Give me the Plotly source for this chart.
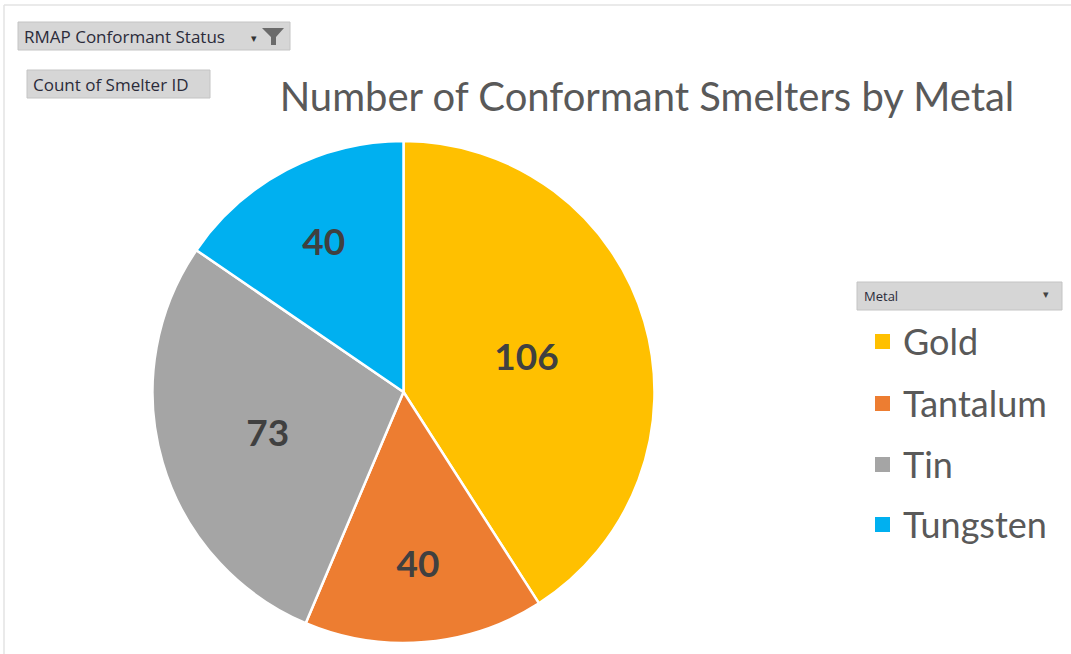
import plotly.graph_objects as go

metals = ["Gold", "Tantalum", "Tin", "Tungsten"]
counts = [106, 40, 73, 40]
colors = ["#FFC000", "#ED7D31", "#A5A5A5", "#00B0F0"]
title_text = "Number of Conformant Smelters by Metal"
filter_label = "RMAP Conformant Status"
value_label = "Count of Smelter ID"
legend_label = "Metal"

W, H = 1071, 654
FONT = "Lato"

def px(x):
    return x / W

def py(y):
    return 1 - y / H

fig = go.Figure()
fig.add_trace(go.Pie(
    labels=metals,
    values=counts,
    marker=dict(colors=colors, line=dict(color="white", width=2.5)),
    sort=False,
    direction="clockwise",
    rotation=0,
    textinfo="value",
    textposition="inside",
    insidetextorientation="horizontal",
    textfont=dict(family=FONT, size=37, color="#404040", weight="bold"),
    domain=dict(x=[px(152), px(655)], y=[py(643), py(141)]),
    showlegend=False,
    hoverinfo="label+value",
))

shapes = []
annotations = []

# outer frame (top and left edges visible)
shapes.append(dict(type="line", xref="paper", yref="paper",
                   x0=px(4), x1=px(1071), y0=py(5), y1=py(5),
                   line=dict(color="#e3e3e3", width=1.5)))
shapes.append(dict(type="line", xref="paper", yref="paper",
                   x0=px(4), x1=px(4), y0=py(5), y1=py(654),
                   line=dict(color="#e3e3e3", width=1.5)))

# pivot field buttons
def button(x0, y0, x1, y1):
    shapes.append(dict(type="rect", xref="paper", yref="paper",
                       x0=px(x0), x1=px(x1), y0=py(y1), y1=py(y0),
                       line=dict(color="#c4c4c4", width=1), fillcolor="#d6d6d6", layer="below"))

button(18, 22, 290, 50)
annotations.append(dict(xref="paper", yref="paper", x=px(22), y=py(36), xanchor="left", yanchor="middle",
                        text=filter_label, showarrow=False,
                        font=dict(family="Open Sans", size=17, color="#2b2b3a")))
annotations.append(dict(xref="paper", yref="paper", x=px(254), y=py(38), xanchor="center", yanchor="middle",
                        text="\u25be", showarrow=False,
                        font=dict(family="DejaVu Sans", size=11, color="#333333")))
# funnel icon
shapes.append(dict(type="path", xref="paper", yref="paper",
                   path=f"M {px(262)},{py(28)} L {px(284)},{py(28)} L {px(276)},{py(37)} L {px(276)},{py(45)} L {px(271)},{py(45)} L {px(271)},{py(37)} Z",
                   fillcolor="#6b6b6b", line=dict(width=0)))

button(27, 70, 210, 98)
annotations.append(dict(xref="paper", yref="paper", x=px(31), y=py(84), xanchor="left", yanchor="middle",
                        text=value_label, showarrow=False,
                        font=dict(family="Open Sans", size=17, color="#2b2b3a")))

button(857, 282, 1062, 310)
annotations.append(dict(xref="paper", yref="paper", x=px(862), y=py(296), xanchor="left", yanchor="middle",
                        text=legend_label, showarrow=False,
                        font=dict(family="Open Sans", size=13, color="#2b2b3a")))
annotations.append(dict(xref="paper", yref="paper", x=px(1046), y=py(295), xanchor="center", yanchor="middle",
                        text="\u25be", showarrow=False,
                        font=dict(family="DejaVu Sans", size=11, color="#444444")))

# manual legend
leg_y = [341, 403, 464, 524]
for name, col, yy in zip(metals, colors, leg_y):
    shapes.append(dict(type="rect", xref="paper", yref="paper",
                       x0=px(875), x1=px(890), y0=py(yy + 8), y1=py(yy - 7),
                       fillcolor=col, line=dict(width=0)))
    annotations.append(dict(xref="paper", yref="paper", x=px(901), y=py(yy), xanchor="left", yanchor="middle",
                            text=name, showarrow=False,
                            font=dict(family=FONT, size=36, color="#595959")))

fig.update_layout(
    width=W, height=H,
    margin=dict(l=0, r=0, t=0, b=0),
    paper_bgcolor="white",
    plot_bgcolor="white",
    title=dict(text=title_text, x=647 / W, xanchor="center", y=py(97), yanchor="middle",
               font=dict(family=FONT, size=40, color="#595959")),
    shapes=shapes,
    annotations=annotations,
)

fig.write_html("out.html",
               config={"displayModeBar": False},
               post_script="document.body.style.margin='0px';document.body.style.overflow='hidden';")
